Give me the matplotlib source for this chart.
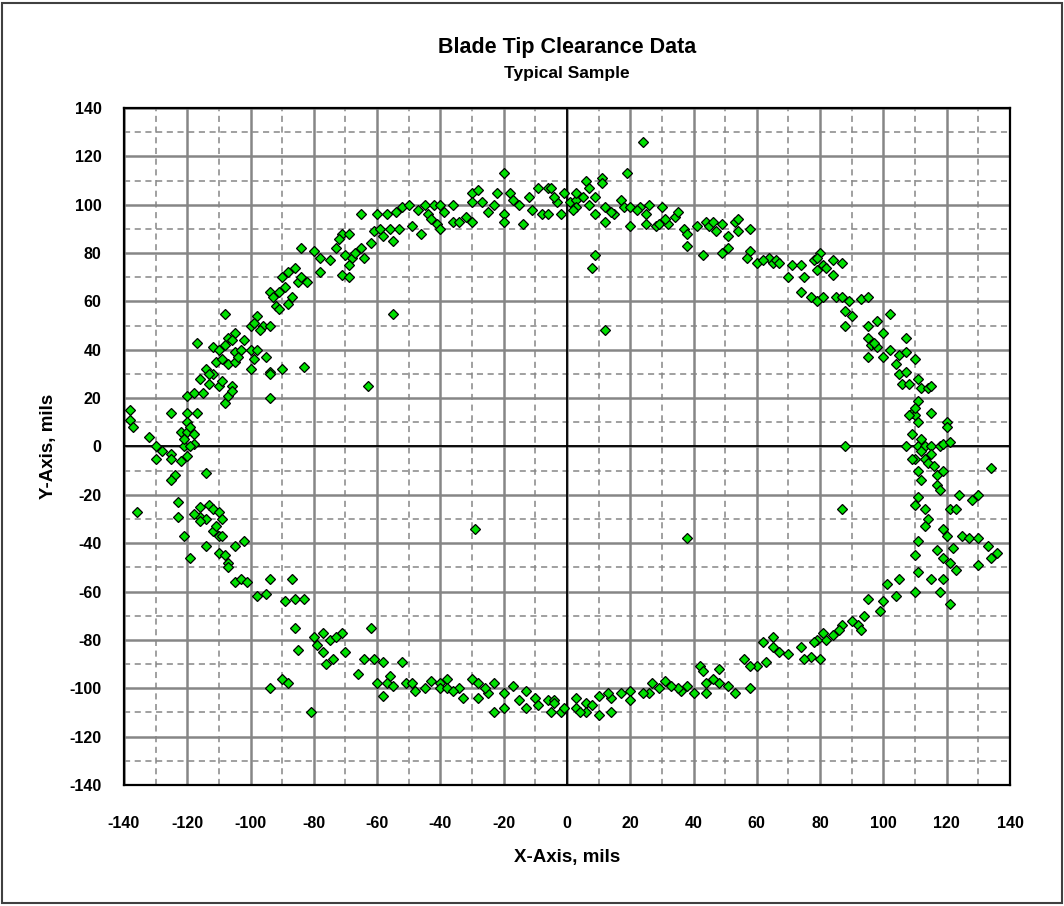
"""Blade tip clearance scatter, typical sample."""
import matplotlib
matplotlib.use("Agg")
import matplotlib.pyplot as plt
from matplotlib.patches import Rectangle
from matplotlib.ticker import MultipleLocator

# Readings in mils, grouped by quadrant of the rotor
upper_left_x = [-138, -138, -137, -132, -130, -125, -120, -117, -120, -122, -120, -118, -118, -121,
                -120, -118, -115, -113, -110, -106, -108, -107, -114, -111, -112, -117, -110, -107,
                -105, -105, -103, -100, -98, -99, -100, -95, -94, -94, -107, -105, -108, -100, -98,
                -96, -94, -94, -90, -83, -63, -55, -112, -109, -106, -104, -97, -99,
                -94, -93, -91, -92, -91, -88, -87, -90, -88, -86, -85, -82, -84, -80, -78, -78,
                -75, -73, -71, -69, -70, -68, -69, -71, -69, -65, -64, -62, -61, -58, -55, -59,
                -56, -53, -49, -46, -65, -60, -57, -54, -52, -50, -45, -44, -42, -40, -39, -41,
                -40, -36, -36, -34, -30, -32, -30, -28, -30, -27, -23, -22, -18, -17, -20, -20,
                -14, -12, -9, -6, -11, -8, -6, -2, -1, -20, -3, -5,
                -116, -113, -109, -108, -106, -102, -119, -121, -89, -84, -72, -67, -47, -43, -25,
                -15, -4]
upper_left_y = [15, 11, 8, 4, 0, 14, 14, 14, 10, 6, 6, 5, 1, 0,
                21, 22, 22, 26, 25, 25, 18, 21, 32, 35, 41, 43, 40, 45,
                47, 39, 40, 40, 40, 36, 32, 37, 31, 30, 34, 35, 55, 50, 54,
                50, 50, 20, 32, 33, 25, 55, 30, 27, 44, 37, 48, 51,
                64, 62, 64, 58, 57, 59, 62, 70, 72, 74, 68, 68, 82, 81, 78, 72,
                77, 82, 88, 88, 79, 78, 75, 71, 70, 82, 78, 84, 89, 87, 85, 90,
                90, 90, 91, 88, 96, 96, 96, 97, 99, 100, 100, 96, 100, 100, 97, 92,
                90, 100, 93, 93, 93, 95, 105, 106, 101, 101, 100, 105, 105, 102, 96, 93,
                92, 103, 107, 107, 98, 96, 96, 96, 105, 113, 101, 107,
                28, 30, 36, 42, 23, 44, 8, 3, 66, 70, 86, 80, 98, 94, 97,
                100, 103]

upper_right_x = [1, 3, 3, 3, 6, 7, 11, 11, 19, 24, 7, 9, 9, 12, 12, 15, 17, 18, 20, 20, 23, 26,
                 25, 25, 28, 30, 29, 32, 34, 35, 37, 38, 38, 41, 44, 45, 46, 49, 51, 53, 54, 54,
                 58, 43, 49, 51, 9, 8, 12,
                 58, 57, 60, 64, 65, 66, 67, 71, 74, 70, 75, 78, 80, 81, 79, 84, 84, 87, 74, 77,
                 79, 81, 85, 87, 89, 93, 95, 88, 90, 88, 102, 95, 98, 100, 107, 95, 96, 98, 102,
                 105, 107, 95, 100, 110, 105, 107, 106, 108, 111, 112, 114, 115,
                 109, 110, 108, 111, 111, 115, 120, 120, 109, 107, 111, 113, 115, 118, 119, 88, 121,
                 2, 5, 14, 22, 31, 47, 62, 79, 82, 97, 104, 110, 112]
upper_right_y = [101, 102, 105, 99, 110, 107, 111, 109, 113, 126, 100, 103, 96, 99, 93, 96, 102, 99,
                 99, 91, 99, 100, 96, 92, 91, 99, 92, 92, 95, 97, 90, 88, 83, 91, 93, 91, 93, 92,
                 87, 93, 94, 89, 90, 79, 80, 82, 79, 74, 48,
                 81, 78, 76, 78, 76, 77, 76, 75, 75, 70, 70, 77, 80, 75, 73, 71, 77, 76, 64, 62,
                 60, 62, 62, 62, 60, 61, 62, 56, 54, 50, 55, 50, 52, 47, 45, 45, 42, 41, 40,
                 38, 39, 37, 37, 36, 30, 31, 26, 26, 28, 24, 24, 25,
                 14, 13, 13, 10, 19, 14, 10, 8, 5, 0, 0, 0, 0, 0, 1, 0, 2,
                 98, 103, 97, 98, 94, 89, 77, 78, 74, 43, 34, 16, 3]

lower_right_x = [110, 113, 134, 109, 114, 111, 112, 117, 119, 117, 111, 110, 113, 114, 124, 128,
                 130, 121, 123, 87, 119, 120, 125, 127, 130, 133, 111, 136, 134, 130, 110, 117,
                 119, 121, 123, 111, 115, 119, 110, 118, 121, 105, 104, 101, 99, 100, 95, 94, 92,
                 93, 87, 86, 82, 81, 79, 78, 80, 77, 75, 74, 70, 65, 65, 62, 63, 60, 58, 56, 58,
                 53, 51, 48, 44, 44, 48, 42, 43, 40, 38, 36, 35, 31, 29, 27, 26, 24, 20, 20, 14,
                 14, 13, 10, 10, 6, 6, 3, 3, 4, 38,
                 112, 115, 116, 118, 113, 122, 90, 84, 67, 46, 33, 17, 8]
lower_right_y = [-5, -5, -9, -5, -7, -10, -14, -12, -10, -16, -21, -24, -26, -30, -20, -22,
                 -20, -26, -26, -26, -34, -37, -37, -38, -38, -41, -39, -44, -46, -49, -45, -43,
                 -46, -48, -51, -52, -55, -55, -60, -60, -65, -55, -62, -57, -68, -64, -63, -70, -74,
                 -76, -74, -76, -80, -77, -80, -81, -88, -87, -88, -83, -86, -79, -83, -81, -89, -91,
                 -91, -88, -100, -102, -99, -98, -98, -102, -92, -91, -93, -102, -99, -101, -100,
                 -97, -100, -98, -102, -102, -101, -105, -104, -110, -102, -103, -111, -106, -110,
                 -104, -108, -110, -38,
                 -2, -3, -8, -18, -33, -42, -72, -78, -85, -96, -99, -102, -107]

lower_left_x = [-125, -130, -125, -120, -119, -114, -124, -125, -123, -136, -123, -116, -113, -112,
                -110, -116, -114, -109, -116, -112, -110, -109, -121, -114, -110, -119, -105, -102,
                -107, -107, -105, -103, -101, -98, -95, -94, -87, -89, -86, -83, -86, -85, -80, -77,
                -75, -71, -62, -77, -76, -74, -70, -94, -90, -88, -81, -64, -61, -58, -52, -60, -58,
                -56, -57, -51, -49, -48, -45, -40, -40, -38, -38, -34, -33, -30, -28, -28, -25, -23,
                -20, -17, -23, -20, -15, -13, -13, -10, -6, -5, -4, -2, -1, -4, -29,
                -128, -122, -118, -111, -108, -79, -73, -66, -55, -43, -36, -26, -9]
lower_left_y = [-3, -5, -5, -4, 0, -11, -12, -14, -23, -27, -29, -25, -24, -26,
                -27, -29, -30, -30, -31, -35, -37, -37, -37, -41, -44, -46, -41, -39,
                -48, -50, -56, -55, -56, -62, -61, -55, -55, -64, -63, -63, -75, -84, -79, -77,
                -80, -77, -75, -85, -90, -88, -85, -100, -96, -98, -110, -88, -88, -89, -89, -98,
                -103, -95, -98, -98, -98, -101, -100, -98, -100, -96, -100, -100, -104, -96, -98,
                -104, -102, -98, -102, -99, -110, -108, -105, -101, -108, -104, -105, -110, -105,
                -110, -108, -106, -34,
                -2, -6, -28, -33, -45, -82, -79, -94, -99, -97, -101, -100, -107]

GRID_GRAY = "#868686"
MARKER_GREEN = "#00e000"
TEXT_FONT = ["Liberation Sans", "DejaVu Sans"]

plt.rcParams["axes.unicode_minus"] = False


def draw_chart():
    """Draws the clearance scatter and saves it."""
    fig = plt.figure(figsize=(10.64, 9.06), dpi=100)
    ax = fig.add_axes([0.1165, 0.1336, 0.8327, 0.7472])

    quadrants = [(upper_left_x, upper_left_y), (upper_right_x, upper_right_y),
                 (lower_right_x, lower_right_y), (lower_left_x, lower_left_y)]
    for xs, ys in quadrants:
        ax.plot(xs, ys, linestyle="none", marker="D", markersize=5.6,
                markerfacecolor=MARKER_GREEN, markeredgecolor="black",
                markeredgewidth=0.9, zorder=4)

    ax.set_xlim(-140, 140)
    ax.set_ylim(-140, 140)
    ax.xaxis.set_major_locator(MultipleLocator(20))
    ax.yaxis.set_major_locator(MultipleLocator(20))
    ax.xaxis.set_minor_locator(MultipleLocator(10))
    ax.yaxis.set_minor_locator(MultipleLocator(10))

    # Solid grid at 20 mils, dashed at the 10s
    ax.grid(which="major", color=GRID_GRAY, linewidth=1.8, linestyle="-", zorder=1)
    ax.grid(which="minor", color=GRID_GRAY, linewidth=1.1, linestyle=(0, (4, 3)), zorder=1)
    ax.set_axisbelow(True)
    ax.axhline(0, color="black", linewidth=1.3, zorder=2)
    ax.axvline(0, color="black", linewidth=1.3, zorder=2)

    for spine in ax.spines.values():
        spine.set_linewidth(1.6)
        spine.set_color("black")

    ax.tick_params(which="both", length=0)
    ax.tick_params(axis="x", pad=22)
    ax.tick_params(axis="y", pad=16)
    for label in ax.get_xticklabels() + ax.get_yticklabels():
        label.set_family(TEXT_FONT)
        label.set_fontweight("bold")
        label.set_fontsize(11.5)

    ax.set_xlabel("X-Axis, mils", family=TEXT_FONT, fontweight="bold", fontsize=13.5, labelpad=13)
    ax.set_ylabel("Y-Axis, mils", family=TEXT_FONT, fontweight="bold", fontsize=13.5, labelpad=9)

    fig.text(0.533, 0.948, "Blade Tip Clearance Data", ha="center", va="center",
             family=TEXT_FONT, fontweight="bold", fontsize=15.5)
    fig.text(0.533, 0.919, "Typical Sample", ha="center", va="center",
             family=TEXT_FONT, fontweight="bold", fontsize=12.5)

    # Thin frame round the whole figure
    fig.patches.append(Rectangle((0.002, 0.003), 0.996, 0.994, transform=fig.transFigure,
                                 fill=False, edgecolor="#404040", linewidth=1.5))

    fig.savefig("out.png", dpi=100)


if __name__ == "__main__":
    draw_chart()
